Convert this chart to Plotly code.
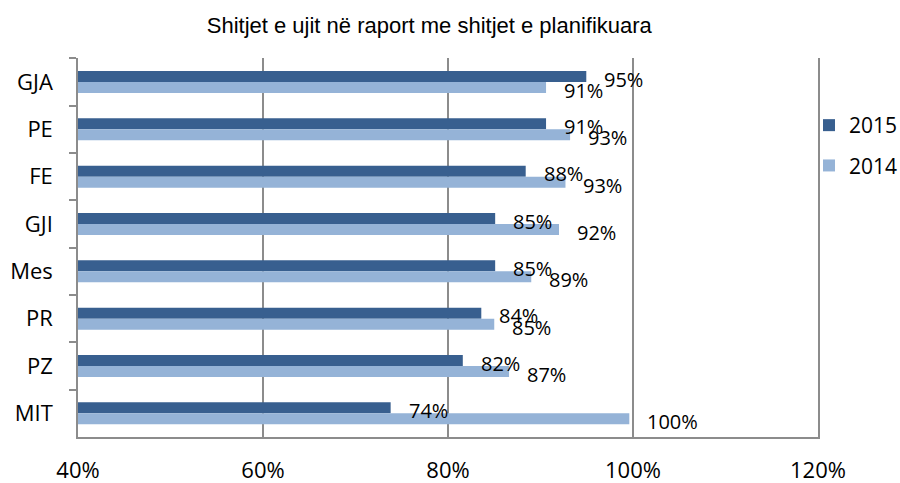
import plotly.graph_objects as go

categories = ["GJA", "PE", "FE", "GJI", "Mes", "PR", "PZ", "MIT"]
values_2015 = [94.95, 90.6, 88.4, 85.1, 85.1, 83.6, 81.6, 73.8]
values_2014 = [90.6, 93.2, 92.7, 92.0, 89.0, 85.0, 86.6, 99.6]
series_names = ["2015", "2014"]
x_ticks = [40, 60, 80, 100, 120]
x_tick_labels = ["40%", "60%", "80%", "100%", "120%"]
title_text = "Shitjet e ujit në raport me shitjet e planifikuara"

dark = "#385f8f"
light = "#95b3d7"
grid = "#8c8c8c"
font_main = "Open Sans"

fig = go.Figure()
for name, vals, col in [(series_names[0], values_2015, dark), (series_names[1], values_2014, light)]:
    fig.add_trace(go.Bar(
        y=categories, x=vals, name=name, orientation="h",
        marker=dict(color=col, line=dict(width=0)),
        legendgroup=name,
    ))

annotations = []
for vals, ys in [(values_2015, 3.0), (values_2014, -8.5)]:
    for c, v in zip(categories, vals):
        annotations.append(dict(
            x=v, y=c, xref="x", yref="y", text=f"{v:.0f}%", showarrow=False,
            xanchor="left", yanchor="middle", xshift=16, yshift=ys,
            font=dict(family=font_main, size=20, color="#000000"),
        ))

fig.update_layout(
    width=900, height=483,
    paper_bgcolor="white", plot_bgcolor="white",
    margin=dict(l=78, r=0, t=58, b=46, autoexpand=False),
    barmode="group", bargap=0.535, bargroupgap=0,
    title=dict(text=title_text, x=0.477, xref="container", xanchor="center",
               y=0.948, yref="container", yanchor="middle",
               font=dict(family="Liberation Sans, Arial, sans-serif", size=22, color="#000000")),
    xaxis=dict(domain=[0, 740 / 822], range=[40, 120], tickvals=x_ticks, ticktext=x_tick_labels,
               showgrid=True, gridcolor=grid, gridwidth=1.5,
               showline=True, linecolor=grid, linewidth=1.5, automargin=False,
               zeroline=False, ticks="", ticklabelstandoff=13,
               tickfont=dict(family=font_main, size=22, color="#000000")),
    yaxis=dict(autorange="reversed", showgrid=False, showline=True, linecolor=grid, linewidth=1.5,
               mirror=True,
               ticks="outside", tickson="boundaries", ticklen=7, tickcolor=grid, tickwidth=1.5,
               ticklabelstandoff=19, automargin=False,
               tickfont=dict(family=font_main, size=22, color="#000000")),
    legend=dict(x=0.8893, xanchor="left", y=0.876, yanchor="top", traceorder="grouped",
                tracegroupgap=10, font=dict(family=font_main, size=21, color="#000000"),
                bgcolor="rgba(0,0,0,0)"),
    annotations=annotations,
    showlegend=True,
)

fig.write_html("out.html", config={"displayModeBar": False},
               post_script="document.body.style.margin='0';document.body.style.padding='0';")
